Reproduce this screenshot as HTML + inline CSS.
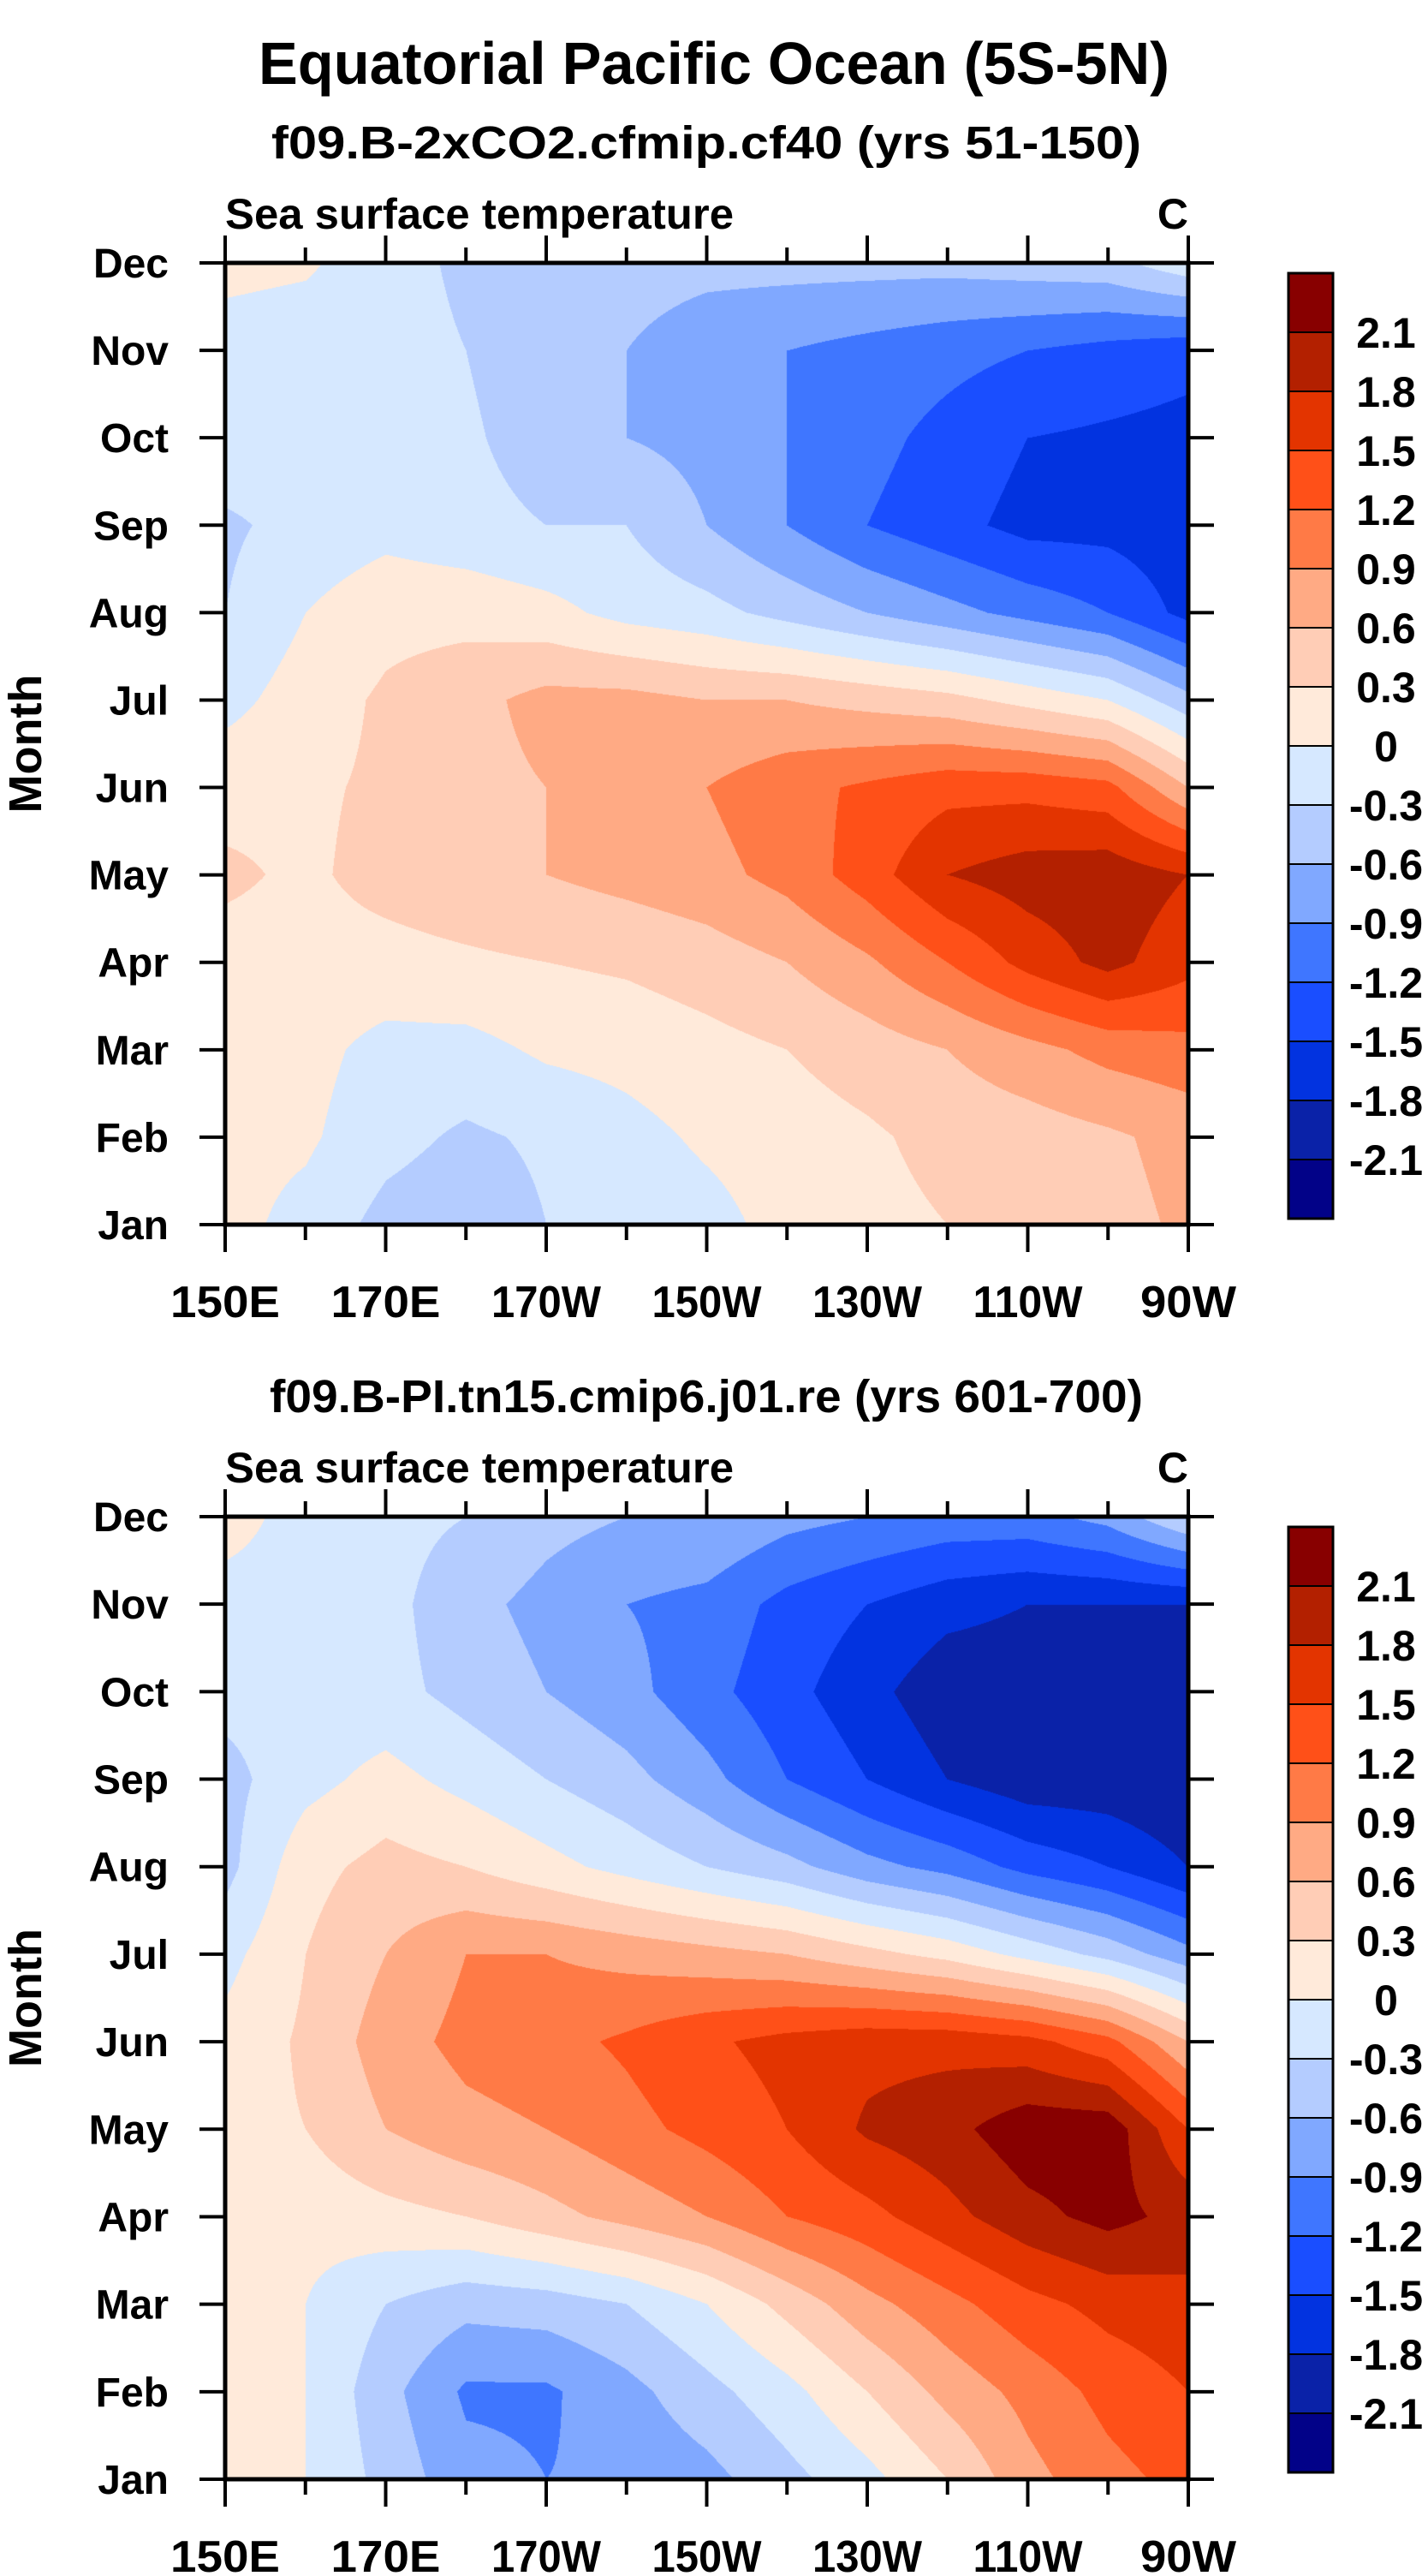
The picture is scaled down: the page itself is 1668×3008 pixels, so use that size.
<!DOCTYPE html>
<html><head><meta charset="utf-8">
<style>
html,body{margin:0;padding:0;background:#fff;}
#wrap{position:relative;width:1668px;height:3008px;overflow:hidden;}
canvas{position:absolute;}
svg{position:absolute;left:0;top:0;}
text{font-family:"Liberation Sans",Arial,sans-serif;font-weight:bold;fill:#000;}
</style></head>
<body>
<div id="wrap">
<canvas id="c1" width="1125" height="1123" style="left:263px;top:307px"></canvas>
<canvas id="c2" width="1125" height="1124" style="left:263px;top:1771px"></canvas>
<svg id="svg" width="1668" height="3008"></svg>
</div>
<script>
// ---- data ----
const months = ["Jan","Feb","Mar","Apr","May","Jun","Jul","Aug","Sep","Oct","Nov","Dec"];
const lons = [150,160,170,180,190,200,210,220,230,240,250,260,270];
const xTickLons = [150,170,190,210,230,250,270];
const xTickLabels = ["150E","170E","170W","150W","130W","110W","90W"];
const levels = [-2.1,-1.8,-1.5,-1.2,-0.9,-0.6,-0.3,0,0.3,0.6,0.9,1.2,1.5,1.8,2.1];
const levelLabels = ["-2.1","-1.8","-1.5","-1.2","-0.9","-0.6","-0.3","0","0.3","0.6","0.9","1.2","1.5","1.8","2.1"];
const colors = ["#020288","#0a22a8","#0233e0","#1a4eff","#3f76ff","#80a8ff","#b4ccff","#d6e8ff","#ffeada","#ffcdb6","#ffaa84","#ff7a46","#ff5018","#e33400","#b32000","#880000"];
const sst2xco2 = [
 [0.1,-0.1,-0.4,-0.5,-0.3,-0.2,-0.1,0.1,0.2,0.3,0.4,0.5,0.65],
 [0.1,0.05,-0.2,-0.35,-0.25,-0.1,0.05,0.15,0.25,0.4,0.45,0.55,0.7],
 [0.1,0.1,-0.1,-0.1,0.05,0.1,0.2,0.3,0.45,0.6,0.8,1.0,1.1],
 [0.2,0.2,0.2,0.25,0.3,0.35,0.45,0.6,0.85,1.2,1.6,1.9,1.6],
 [0.35,0.25,0.4,0.5,0.6,0.7,0.8,1.0,1.35,1.8,1.95,2.0,1.8],
 [0.2,0.25,0.35,0.5,0.6,0.7,0.9,1.1,1.25,1.4,1.4,1.3,0.6],
 [-0.1,0.15,0.35,0.5,0.7,0.7,0.6,0.6,0.5,0.4,0.2,0.0,-0.5],
 [-0.3,0.0,0.2,0.2,0.1,-0.1,-0.2,-0.4,-0.6,-0.8,-1.0,-1.2,-1.6],
 [-0.35,-0.2,-0.1,-0.2,-0.3,-0.3,-0.6,-0.9,-1.2,-1.4,-1.6,-1.6,-1.7],
 [-0.1,-0.2,-0.2,-0.25,-0.45,-0.6,-0.7,-0.9,-1.1,-1.3,-1.5,-1.55,-1.6],
 [-0.15,-0.2,-0.2,-0.3,-0.5,-0.6,-0.8,-0.9,-1.0,-1.1,-1.2,-1.3,-1.4],
 [0.1,0.05,-0.2,-0.35,-0.4,-0.45,-0.5,-0.5,-0.5,-0.5,-0.45,-0.4,-0.1]
];
const sstPI = [
 [0.1,0.0,-0.4,-0.8,-0.9,-0.85,-0.7,-0.4,-0.1,0.3,0.8,1.1,1.3],
 [0.1,0.0,-0.5,-0.95,-0.95,-0.7,-0.4,-0.1,0.3,0.7,1.0,1.3,1.5],
 [0.1,0.0,-0.3,-0.5,-0.45,-0.3,0.0,0.4,0.8,1.1,1.4,1.6,1.7],
 [0.2,0.1,0.2,0.3,0.5,0.7,0.9,1.2,1.4,1.7,2.0,2.2,2.0],
 [0.2,0.3,0.6,0.8,0.9,1.1,1.3,1.5,1.85,2.0,2.3,2.3,1.5],
 [0.1,0.35,0.75,1.0,1.1,1.25,1.45,1.6,1.7,1.7,1.6,1.3,0.6],
 [-0.1,0.3,0.6,0.9,0.9,0.8,0.7,0.6,0.4,0.2,-0.1,-0.4,-0.8],
 [-0.4,0.2,0.4,0.3,0.1,-0.1,-0.3,-0.5,-0.8,-1.0,-1.3,-1.5,-1.8],
 [-0.4,-0.1,0.1,-0.1,-0.3,-0.5,-0.8,-1.2,-1.5,-1.8,-2.0,-2.0,-2.1],
 [-0.2,-0.2,-0.2,-0.4,-0.6,-0.8,-1.1,-1.4,-1.7,-2.0,-2.0,-2.0,-2.0],
 [-0.1,-0.1,-0.2,-0.5,-0.7,-0.9,-1.0,-1.3,-1.5,-1.7,-1.8,-1.8,-1.8],
 [0.1,-0.1,-0.2,-0.3,-0.5,-0.6,-0.6,-0.8,-0.9,-1.0,-1.0,-0.8,-0.3]
];

const NS="http://www.w3.org/2000/svg";
const svg=document.getElementById('svg');
function el(tag,attrs,txt){const e=document.createElementNS(NS,tag);for(const k in attrs)e.setAttribute(k,attrs[k]);if(txt!==undefined)e.textContent=txt;svg.appendChild(e);return e;}
function hex(c){return [parseInt(c.substr(1,2),16),parseInt(c.substr(3,2),16),parseInt(c.substr(5,2),16)];}
const rgb=colors.map(hex);

function drawField(canvasId,data){
  const cv=document.getElementById(canvasId),ctx=cv.getContext('2d');
  const W=cv.width,H=cv.height,img=ctx.createImageData(W,H);
  const nx=lons.length-1,ny=months.length-1;
  for(let py=0;py<H;py++){
    const fy=(1-py/(H-1))*ny; const j=Math.min(Math.floor(fy),ny-1), ty=fy-j;
    for(let px=0;px<W;px++){
      const fx=px/(W-1)*nx; const i=Math.min(Math.floor(fx),nx-1), tx=fx-i;
      const v=(data[j][i]*(1-tx)+data[j][i+1]*tx)*(1-ty)+(data[j+1][i]*(1-tx)+data[j+1][i+1]*tx)*ty;
      let k=0;while(k<levels.length&&v>=levels[k])k++;
      const c=rgb[k],o=(py*W+px)*4;
      img.data[o]=c[0];img.data[o+1]=c[1];img.data[o+2]=c[2];img.data[o+3]=255;
    }
  }
  ctx.putImageData(img,0,0);
}

function panel(top,bottom,subtitle,subLen,prefix){
  const L=263,R=1388;
  const xs=lon=>L+(lon-150)/120*(R-L);
  const ys=m=>bottom-m/11*(bottom-top);
  let t=el('text',{x:825,y:top-122,'font-size':54,'text-anchor':'middle',textLength:subLen,lengthAdjust:'spacingAndGlyphs'},subtitle);
  
  t=el('text',{x:L,y:top-40,'font-size':50,textLength:594,lengthAdjust:'spacingAndGlyphs'},'Sea surface temperature');
  
  t=el('text',{x:R,y:top-40,'font-size':50,'text-anchor':'end'},'C');
  
  t=el('text',{x:0,y:0,'font-size':54,'text-anchor':'middle',transform:`translate(48,${(top+bottom)/2}) rotate(-90)`},'Month');
  
  el('rect',{x:L,y:top,width:R-L,height:bottom-top,fill:'none',stroke:'#000','stroke-width':5});
  months.forEach((m,i)=>{
    const y=ys(i);
    el('line',{x1:L-30,y1:y,x2:L,y2:y,stroke:'#000','stroke-width':4});
    el('line',{x1:R,y1:y,x2:R+30,y2:y,stroke:'#000','stroke-width':4});
    const tt=el('text',{x:197,y:y+17,'font-size':48,'text-anchor':'end'},m);
    
  });
  for(let lon=150;lon<=270;lon+=10){
    const x=xs(lon),major=(lon-150)%20===0,len=major?32:18;
    el('line',{x1:x,y1:bottom,x2:x,y2:bottom+len,stroke:'#000','stroke-width':4});
    el('line',{x1:x,y1:top-len,x2:x,y2:top,stroke:'#000','stroke-width':4});
  }
  xTickLons.forEach((lon,i)=>{
    const w=xTickLabels[i].length===4?128:112;
    const tt=el('text',{x:xs(lon),y:bottom+108,'font-size':52,'text-anchor':'middle',textLength:w,lengthAdjust:'spacingAndGlyphs'},xTickLabels[i]);
    
  });
  // colorbar
  const cbT=top+12,cbB=top+1116,cbL=1505,cbR=1557,n=colors.length,h=(cbB-cbT)/n;
  colors.forEach((c,i)=>{
    const r=el('rect',{x:cbL,y:cbB-(i+1)*h,width:cbR-cbL,height:h,fill:c,stroke:'#000','stroke-width':2});
    
  });
  el('rect',{x:cbL,y:cbT,width:cbR-cbL,height:cbB-cbT,fill:'none',stroke:'#000','stroke-width':3});
  levels.forEach((lv,i)=>{
    const y=cbB-(i+1)*h;
    const tt=el('text',{x:1619,y:y+18,'font-size':50,'text-anchor':'middle'},levelLabels[i]);
    
  });
}

let title=el('text',{x:834,y:98,'font-size':70,'text-anchor':'middle',textLength:1064,lengthAdjust:'spacingAndGlyphs'},'Equatorial Pacific Ocean (5S-5N)');


drawField('c1',sst2xco2);
drawField('c2',sstPI);
panel(307,1430,'f09.B-2xCO2.cfmip.cf40 (yrs 51-150)',1016,'top');
panel(1771,2895,'f09.B-PI.tn15.cmip6.j01.re (yrs 601-700)',1020,'bottom');
</script>
</body></html>
